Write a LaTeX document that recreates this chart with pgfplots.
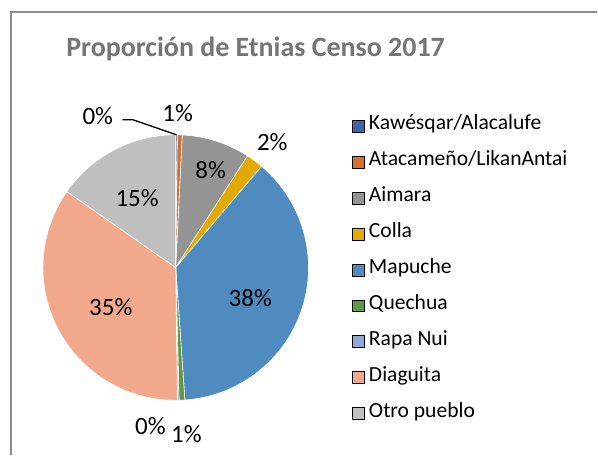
\documentclass[border=0pt]{standalone}
\usepackage{pgfplots}
\pgfplotsset{compat=1.18}
\usepackage{fontspec}
\setmainfont{Carlito}
\definecolor{cKaw}{HTML}{3D65AE}
\definecolor{cAta}{HTML}{D86F2D}
\definecolor{cAim}{HTML}{949494}
\definecolor{cCol}{HTML}{E2AA00}
\definecolor{cMap}{HTML}{4F8BBF}
\definecolor{cQue}{HTML}{5E9A42}
\definecolor{cRap}{HTML}{91A7D7}
\definecolor{cDia}{HTML}{F2A98B}
\definecolor{cOtr}{HTML}{BFBFBF}
\definecolor{cTitle}{HTML}{757575}
\definecolor{cFrame}{HTML}{8C8C8C}
\gdef\cum{0}
\newcommand\slice[2]{%
  \pgfmathsetmacro\sa{90-3.6*\cum}%
  \pgfmathsetmacro\newcum{\cum+#1}%
  \pgfmathsetmacro\se{90-3.6*\newcum}%
  \xdef\cum{\newcum}%
  \edef\tmp{\noexpand\fill[#2,draw=white,line width=0.6pt] (axis cs:176,268) -- ++(\sa:133pt) arc[start angle=\sa, end angle=\se, radius=133pt] -- cycle;}%
  \tmp}
\newcommand\lab[3]{\node[inner sep=0pt,font=\fontsize{25}{28}\selectfont] at (axis cs:#1,#2) {#3};}
\begin{document}
\begin{tikzpicture}
\begin{axis}[
  scale only axis, width=598pt, height=456pt,
  xmin=0, xmax=598, ymin=0, ymax=456, y dir=reverse,
  hide axis, clip=false,
  legend style={at={(axis cs:352,117)}, anchor=north west, draw=none, fill=none,
    inner sep=0pt, row sep=18pt, font=\fontsize{21.6}{24}\selectfont,
    nodes={inner sep=0pt, text height=13pt, text depth=5pt},
    /tikz/every odd column/.append style={column sep=5pt}},
  legend cell align=left,
  legend image code/.code={\fill[#1] (0pt,-6pt) rectangle (12pt,6pt);},
]
\path (axis cs:0,0) rectangle (axis cs:598,456);
\draw[cFrame, line width=2pt] (axis cs:11,456) -- (axis cs:11,12) -- (axis cs:598,12);
\slice{0.2}{cKaw}
\slice{0.6}{cAta}
\slice{8.3}{cAim}
\slice{2.1}{cCol}
\slice{37.7}{cMap}
\slice{0.7}{cQue}
\slice{0.2}{cRap}
\slice{34.9}{cDia}
\slice{15.3}{cOtr}
\node[anchor=base, font=\fontsize{28}{32}\selectfont\bfseries, text=cTitle] at (axis cs:256,57) {Proporción de Etnias Censo 2017};
\draw[black, line width=1.3pt] (axis cs:122.7,120) -- (axis cs:133.3,120) -- (axis cs:176.7,135);
\lab{98}{116.7}{0\%}
\lab{178}{113}{1\%}
\lab{211}{170}{8\%}
\lab{272.7}{142.7}{2\%}
\lab{250.7}{299}{38\%}
\lab{111}{308}{35\%}
\lab{137.3}{198}{15\%}
\lab{150.7}{426.7}{0\%}
\lab{186.7}{435}{1\%}
\addlegendimage{fill=cKaw}\addlegendentry{Kawésqar/Alacalufe}
\addlegendimage{fill=cAta}\addlegendentry{Atacameño/LikanAntai}
\addlegendimage{fill=cAim}\addlegendentry{Aimara}
\addlegendimage{fill=cCol}\addlegendentry{Colla}
\addlegendimage{fill=cMap}\addlegendentry{Mapuche}
\addlegendimage{fill=cQue}\addlegendentry{Quechua}
\addlegendimage{fill=cRap}\addlegendentry{Rapa Nui}
\addlegendimage{fill=cDia}\addlegendentry{Diaguita}
\addlegendimage{fill=cOtr}\addlegendentry{Otro pueblo}
\end{axis}
\end{tikzpicture}
\end{document}
